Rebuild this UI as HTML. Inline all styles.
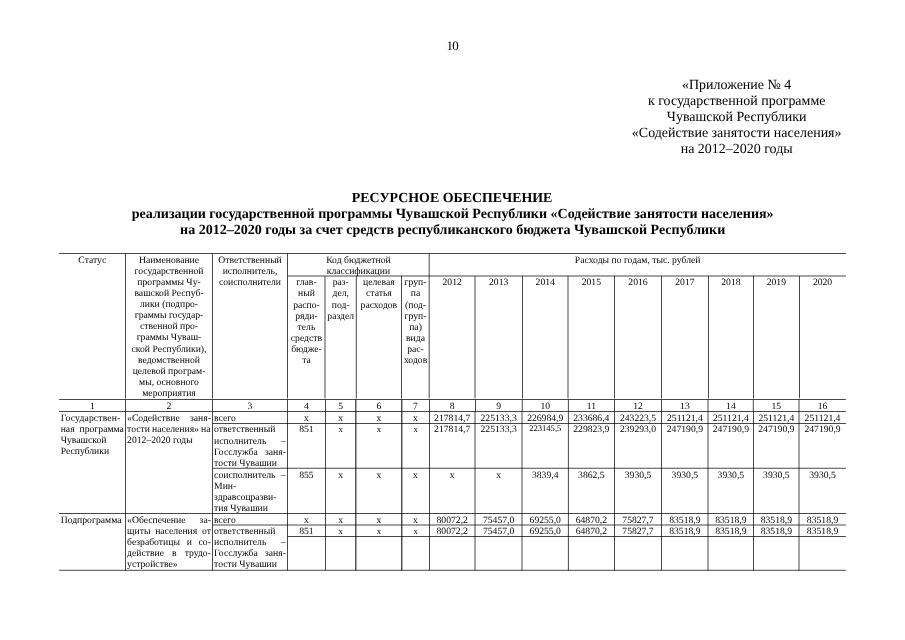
<!DOCTYPE html>
<html lang="ru">
<head>
<meta charset="utf-8">
<title>Приложение № 4 — Ресурсное обеспечение</title>
<style>
html,body{margin:0;padding:0;background:#fff;}
body{width:905px;height:640px;position:relative;overflow:hidden;font-family:"Liberation Serif","Times New Roman",serif;color:#000;text-rendering:geometricPrecision;}
.t{position:absolute;white-space:nowrap;font-size:9.675px;line-height:12px;height:12px;}
.c{text-align:center;}
.l{text-align:left;}
.j{text-align:justify;text-align-last:justify;white-space:normal;}
.h{font-size:13.97px;line-height:17px;height:17px;}
.b{font-weight:bold;font-size:14.04px;}
.pn{font-size:12.9px;line-height:14px;height:14px;}
.sm{font-size:8.6px;line-height:11px;height:11px;}
svg{position:absolute;left:0;top:0;}
svg line{stroke:#000;stroke-width:0.72;}
</style>
</head>
<body>
<svg width="905" height="640" viewBox="0 0 905 640" aria-hidden="true">
<line x1="59.10" y1="253.50" x2="845.90" y2="253.50"/>
<line x1="287.50" y1="276.00" x2="845.90" y2="276.00"/>
<line x1="59.10" y1="399.50" x2="845.90" y2="399.50"/>
<line x1="59.10" y1="411.50" x2="845.90" y2="411.50"/>
<line x1="212.50" y1="423.50" x2="845.90" y2="423.50"/>
<line x1="212.50" y1="468.25" x2="845.90" y2="468.25"/>
<line x1="59.10" y1="513.50" x2="845.90" y2="513.50"/>
<line x1="212.50" y1="525.00" x2="845.90" y2="525.00"/>
<line x1="287.50" y1="536.50" x2="845.90" y2="536.50"/>
<line x1="59.10" y1="570.30" x2="845.90" y2="570.30"/>
<line x1="125.50" y1="253.50" x2="125.50" y2="398.35"/>
<line x1="125.50" y1="399.50" x2="125.50" y2="411.50"/>
<line x1="125.50" y1="411.50" x2="125.50" y2="570.60"/>
<line x1="212.50" y1="253.50" x2="212.50" y2="398.35"/>
<line x1="212.50" y1="399.50" x2="212.50" y2="411.50"/>
<line x1="212.50" y1="411.50" x2="212.50" y2="570.60"/>
<line x1="287.50" y1="253.50" x2="287.50" y2="398.35"/>
<line x1="287.50" y1="399.50" x2="287.50" y2="411.50"/>
<line x1="287.50" y1="411.50" x2="287.50" y2="570.60"/>
<line x1="325.00" y1="276.00" x2="325.00" y2="398.35"/>
<line x1="325.50" y1="399.50" x2="325.50" y2="411.50"/>
<line x1="325.50" y1="411.50" x2="325.50" y2="570.60"/>
<line x1="356.30" y1="276.00" x2="356.30" y2="398.35"/>
<line x1="355.85" y1="399.50" x2="355.85" y2="411.50" style="stroke-width:1.0"/>
<line x1="355.85" y1="411.50" x2="355.85" y2="570.60" style="stroke-width:1.0"/>
<line x1="401.50" y1="276.00" x2="401.50" y2="398.35"/>
<line x1="401.80" y1="399.50" x2="401.80" y2="411.50" style="stroke-width:1.0"/>
<line x1="401.80" y1="411.50" x2="401.80" y2="570.60" style="stroke-width:1.0"/>
<line x1="429.20" y1="253.50" x2="429.20" y2="398.35"/>
<line x1="429.50" y1="399.50" x2="429.50" y2="411.50"/>
<line x1="429.50" y1="411.50" x2="429.50" y2="570.60"/>
<line x1="475.00" y1="276.00" x2="475.00" y2="398.35"/>
<line x1="475.50" y1="399.50" x2="475.50" y2="411.50"/>
<line x1="475.00" y1="411.50" x2="475.00" y2="570.60"/>
<line x1="522.50" y1="276.00" x2="522.50" y2="398.35"/>
<line x1="522.30" y1="399.50" x2="522.30" y2="411.50"/>
<line x1="522.00" y1="411.50" x2="522.00" y2="570.60"/>
<line x1="568.00" y1="276.00" x2="568.00" y2="398.35"/>
<line x1="568.40" y1="399.50" x2="568.40" y2="411.50"/>
<line x1="568.40" y1="411.50" x2="568.40" y2="570.60"/>
<line x1="614.50" y1="276.00" x2="614.50" y2="398.35"/>
<line x1="614.50" y1="399.50" x2="614.50" y2="411.50"/>
<line x1="614.50" y1="411.50" x2="614.50" y2="570.60"/>
<line x1="661.50" y1="276.00" x2="661.50" y2="398.35"/>
<line x1="661.50" y1="399.50" x2="661.50" y2="411.50"/>
<line x1="661.50" y1="411.50" x2="661.50" y2="570.60"/>
<line x1="708.50" y1="276.00" x2="708.50" y2="398.35"/>
<line x1="708.00" y1="399.50" x2="708.00" y2="411.50"/>
<line x1="708.00" y1="411.50" x2="708.00" y2="570.60"/>
<line x1="753.50" y1="276.00" x2="753.50" y2="398.35"/>
<line x1="753.30" y1="399.50" x2="753.30" y2="411.50"/>
<line x1="753.50" y1="411.50" x2="753.50" y2="570.60"/>
<line x1="799.50" y1="276.00" x2="799.50" y2="398.35"/>
<line x1="799.00" y1="399.50" x2="799.00" y2="411.50"/>
<line x1="799.00" y1="411.50" x2="799.00" y2="570.60"/>
</svg>
<div class="t l pn" style="left:446.55px;width:20px;top:39px;"><span style="letter-spacing:-0.65px">1</span>0</div>
<div class="t c h" style="left:586.70px;width:300.00px;top:77px;">«Приложение № 4</div>
<div class="t c h" style="left:586.70px;width:300.00px;top:93px;">к государственной программе</div>
<div class="t c h" style="left:586.70px;width:300.00px;top:109px;">Чувашской Республики</div>
<div class="t c h" style="left:586.70px;width:300.00px;top:125px;">«Содействие занятости населения»</div>
<div class="t c h" style="left:586.70px;width:300.00px;top:141px;">на 2012–2020 годы</div>
<div class="t c h b" style="left:52.10px;width:800.00px;top:190px;font-size:13.9px;">РЕСУРСНОЕ ОБЕСПЕЧЕНИЕ</div>
<div class="t c h b" style="left:52.70px;width:800.00px;top:206px;">реализации государственной программы Чувашской Республики «Содействие занятости населения»</div>
<div class="t c h b" style="left:52.70px;width:800.00px;top:222px;">на 2012–2020 годы за счет средств республиканского бюджета Чувашской Республики</div>
<div class="t c" style="left:59.10px;width:66.40px;top:255px;">Статус</div>
<div class="t c" style="left:125.50px;width:87.00px;top:255px;">Наименование</div>
<div class="t c" style="left:125.50px;width:87.00px;top:266px;">государственной</div>
<div class="t c" style="left:125.50px;width:87.00px;top:277px;">программы Чу-</div>
<div class="t c" style="left:125.50px;width:87.00px;top:288px;">вашской Респуб-</div>
<div class="t c" style="left:125.50px;width:87.00px;top:299px;">лики (подпро-</div>
<div class="t c" style="left:125.50px;width:87.00px;top:310px;">граммы государ-</div>
<div class="t c" style="left:125.50px;width:87.00px;top:321px;">ственной про-</div>
<div class="t c" style="left:125.50px;width:87.00px;top:332px;">граммы Чуваш-</div>
<div class="t c" style="left:125.50px;width:87.00px;top:344px;">ской Республики),</div>
<div class="t c" style="left:125.50px;width:87.00px;top:355px;">ведомственной</div>
<div class="t c" style="left:125.50px;width:87.00px;top:366px;">целевой програм-</div>
<div class="t c" style="left:125.50px;width:87.00px;top:377px;">мы, основного</div>
<div class="t c" style="left:125.50px;width:87.00px;top:388px;">мероприятия</div>
<div class="t c" style="left:212.50px;width:75.00px;top:255px;">Ответственный</div>
<div class="t c" style="left:212.50px;width:75.00px;top:266px;">исполнитель,</div>
<div class="t c" style="left:212.50px;width:75.00px;top:277px;">соисполнители</div>
<div class="t c" style="left:287.50px;width:141.90px;top:255px;">Код бюджетной</div>
<div class="t c" style="left:287.50px;width:141.90px;top:266px;">классификации</div>
<div class="t c" style="left:429.40px;width:416.50px;top:255px;">Расходы по годам, тыс. рублей</div>
<div class="t c" style="left:287.50px;width:37.90px;top:277px;">глав-</div>
<div class="t c" style="left:287.50px;width:37.90px;top:288px;">ный</div>
<div class="t c" style="left:287.50px;width:37.90px;top:300px;">распо-</div>
<div class="t c" style="left:287.50px;width:37.90px;top:311px;">ряди-</div>
<div class="t c" style="left:287.50px;width:37.90px;top:322px;">тель</div>
<div class="t c" style="left:287.50px;width:37.90px;top:333px;">средств</div>
<div class="t c" style="left:287.50px;width:37.90px;top:344px;">бюдже-</div>
<div class="t c" style="left:287.50px;width:37.90px;top:355px;">та</div>
<div class="t c" style="left:325.40px;width:30.70px;top:277px;">раз-</div>
<div class="t c" style="left:325.40px;width:30.70px;top:288px;">дел,</div>
<div class="t c" style="left:325.40px;width:30.70px;top:300px;">под-</div>
<div class="t c" style="left:325.40px;width:30.70px;top:311px;">раздел</div>
<div class="t c" style="left:356.10px;width:45.60px;top:277px;">целевая</div>
<div class="t c" style="left:356.10px;width:45.60px;top:288px;">статья</div>
<div class="t c" style="left:356.10px;width:45.60px;top:300px;">расходов</div>
<div class="t c" style="left:401.70px;width:27.70px;top:277px;">груп-</div>
<div class="t c" style="left:401.70px;width:27.70px;top:288px;">па</div>
<div class="t c" style="left:401.70px;width:27.70px;top:300px;">(под-</div>
<div class="t c" style="left:401.70px;width:27.70px;top:311px;">груп-</div>
<div class="t c" style="left:401.70px;width:27.70px;top:322px;">па)</div>
<div class="t c" style="left:401.70px;width:27.70px;top:333px;">вида</div>
<div class="t c" style="left:401.70px;width:27.70px;top:344px;">рас-</div>
<div class="t c" style="left:401.70px;width:27.70px;top:355px;">ходов</div>
<div class="t c" style="left:429.40px;width:45.60px;top:277px;">2012</div>
<div class="t c" style="left:475.00px;width:47.30px;top:277px;">2013</div>
<div class="t c" style="left:522.30px;width:45.90px;top:277px;">2014</div>
<div class="t c" style="left:568.20px;width:46.30px;top:277px;">2015</div>
<div class="t c" style="left:614.50px;width:47.00px;top:277px;">2016</div>
<div class="t c" style="left:661.50px;width:46.80px;top:277px;">2017</div>
<div class="t c" style="left:708.30px;width:45.20px;top:277px;">2018</div>
<div class="t c" style="left:753.50px;width:45.70px;top:277px;">2019</div>
<div class="t c" style="left:799.20px;width:46.70px;top:277px;">2020</div>
<div class="t c" style="left:59.10px;width:66.40px;top:401px;">1</div>
<div class="t c" style="left:125.50px;width:87.00px;top:401px;">2</div>
<div class="t c" style="left:212.50px;width:75.00px;top:401px;">3</div>
<div class="t c" style="left:287.50px;width:37.90px;top:401px;">4</div>
<div class="t c" style="left:325.40px;width:30.70px;top:401px;">5</div>
<div class="t c" style="left:356.10px;width:45.60px;top:401px;">6</div>
<div class="t c" style="left:401.70px;width:27.70px;top:401px;">7</div>
<div class="t c" style="left:429.40px;width:45.60px;top:401px;">8</div>
<div class="t c" style="left:475.00px;width:47.30px;top:401px;">9</div>
<div class="t c" style="left:522.30px;width:45.90px;top:401px;">10</div>
<div class="t c" style="left:568.20px;width:46.30px;top:401px;">11</div>
<div class="t c" style="left:614.50px;width:47.00px;top:401px;">12</div>
<div class="t c" style="left:661.50px;width:46.80px;top:401px;">13</div>
<div class="t c" style="left:708.30px;width:45.20px;top:401px;">14</div>
<div class="t c" style="left:753.50px;width:45.70px;top:401px;">15</div>
<div class="t c" style="left:799.20px;width:46.70px;top:401px;">16</div>
<div class="t l" style="left:60.70px;width:63.20px;top:413px;letter-spacing:0.14px;">Государствен-</div>
<div class="t j" style="left:60.70px;width:63.20px;top:424px;">ная программа</div>
<div class="t l" style="left:60.70px;width:63.20px;top:435px;">Чувашской</div>
<div class="t l" style="left:60.70px;width:63.20px;top:446px;">Республики</div>
<div class="t j" style="left:127.10px;width:83.80px;top:413px;">«Содействие заня-</div>
<div class="t l" style="left:127.10px;width:83.80px;top:424px;word-spacing:-0.3px;">тости населения» на</div>
<div class="t l" style="left:127.10px;width:83.80px;top:435px;">2012–2020 годы</div>
<div class="t l" style="left:214.10px;width:71.80px;top:413px;">всего</div>
<div class="t l" style="left:214.10px;width:71.80px;top:424px;">ответственный</div>
<div class="t j" style="left:214.10px;width:71.80px;top:436px;">исполнитель –</div>
<div class="t j" style="left:214.10px;width:71.80px;top:447px;">Госслужба заня-</div>
<div class="t l" style="left:214.10px;width:71.80px;top:458px;">тости Чувашии</div>
<div class="t j" style="left:214.10px;width:71.80px;top:470px;">соисполнитель –</div>
<div class="t l" style="left:214.10px;width:71.80px;top:481px;">Мин-</div>
<div class="t l" style="left:214.10px;width:71.80px;top:492px;">здравсоцразви-</div>
<div class="t l" style="left:214.10px;width:71.80px;top:503px;">тия Чувашии</div>
<div class="t l" style="left:60.70px;width:63.20px;top:515px;">Подпрограмма</div>
<div class="t j" style="left:127.10px;width:83.80px;top:515px;">«Обеспечение за-</div>
<div class="t j" style="left:127.10px;width:83.80px;top:526px;">щиты населения от</div>
<div class="t j" style="left:127.10px;width:83.80px;top:537px;">безработицы и со-</div>
<div class="t j" style="left:127.10px;width:83.80px;top:548px;">действие в трудо-</div>
<div class="t l" style="left:127.10px;width:83.80px;top:559px;">устройстве»</div>
<div class="t l" style="left:214.10px;width:71.80px;top:515px;">всего</div>
<div class="t l" style="left:214.10px;width:71.80px;top:526px;">ответственный</div>
<div class="t j" style="left:214.10px;width:71.80px;top:537px;">исполнитель –</div>
<div class="t j" style="left:214.10px;width:71.80px;top:548px;">Госслужба заня-</div>
<div class="t l" style="left:214.10px;width:71.80px;top:559px;">тости Чувашии</div>
<div class="t c" style="left:287.50px;width:37.90px;top:413px;">х</div>
<div class="t c" style="left:325.40px;width:30.70px;top:413px;">х</div>
<div class="t c" style="left:356.10px;width:45.60px;top:413px;">х</div>
<div class="t c" style="left:401.70px;width:27.70px;top:413px;">х</div>
<div class="t c" style="left:429.40px;width:45.60px;top:413px;">217814,7</div>
<div class="t c" style="left:475.00px;width:47.30px;top:413px;">225133,3</div>
<div class="t c" style="left:522.30px;width:45.90px;top:413px;">226984,9</div>
<div class="t c" style="left:568.20px;width:46.30px;top:413px;">233686,4</div>
<div class="t c" style="left:614.50px;width:47.00px;top:413px;">243223,5</div>
<div class="t c" style="left:661.50px;width:46.80px;top:413px;">251121,4</div>
<div class="t c" style="left:708.30px;width:45.20px;top:413px;">251121,4</div>
<div class="t c" style="left:753.50px;width:45.70px;top:413px;">251121,4</div>
<div class="t c" style="left:799.20px;width:46.70px;top:413px;">251121,4</div>
<div class="t c" style="left:287.50px;width:37.90px;top:424px;">851</div>
<div class="t c sm" style="left:325.40px;width:30.70px;top:424px;">х</div>
<div class="t c sm" style="left:356.10px;width:45.60px;top:424px;">х</div>
<div class="t c sm" style="left:401.70px;width:27.70px;top:424px;">х</div>
<div class="t c" style="left:429.40px;width:45.60px;top:424px;">217814,7</div>
<div class="t c" style="left:475.00px;width:47.30px;top:424px;">225133,3</div>
<div class="t c sm" style="left:522.30px;width:45.90px;top:423px;">223145,5</div>
<div class="t c" style="left:568.20px;width:46.30px;top:424px;">229823,9</div>
<div class="t c" style="left:614.50px;width:47.00px;top:424px;">239293,0</div>
<div class="t c" style="left:661.50px;width:46.80px;top:424px;">247190,9</div>
<div class="t c" style="left:708.30px;width:45.20px;top:424px;">247190,9</div>
<div class="t c" style="left:753.50px;width:45.70px;top:424px;">247190,9</div>
<div class="t c" style="left:799.20px;width:46.70px;top:424px;">247190,9</div>
<div class="t c" style="left:287.50px;width:37.90px;top:470px;">855</div>
<div class="t c" style="left:325.40px;width:30.70px;top:470px;">х</div>
<div class="t c" style="left:356.10px;width:45.60px;top:470px;">х</div>
<div class="t c" style="left:401.70px;width:27.70px;top:470px;">х</div>
<div class="t c" style="left:429.40px;width:45.60px;top:470px;">х</div>
<div class="t c" style="left:475.00px;width:47.30px;top:470px;">х</div>
<div class="t c" style="left:522.30px;width:45.90px;top:470px;">3839,4</div>
<div class="t c" style="left:568.20px;width:46.30px;top:470px;">3862,5</div>
<div class="t c" style="left:614.50px;width:47.00px;top:470px;">3930,5</div>
<div class="t c" style="left:661.50px;width:46.80px;top:470px;">3930,5</div>
<div class="t c" style="left:708.30px;width:45.20px;top:470px;">3930,5</div>
<div class="t c" style="left:753.50px;width:45.70px;top:470px;">3930,5</div>
<div class="t c" style="left:799.20px;width:46.70px;top:470px;">3930,5</div>
<div class="t c" style="left:287.50px;width:37.90px;top:515px;">х</div>
<div class="t c" style="left:325.40px;width:30.70px;top:515px;">х</div>
<div class="t c" style="left:356.10px;width:45.60px;top:515px;">х</div>
<div class="t c" style="left:401.70px;width:27.70px;top:515px;">х</div>
<div class="t c" style="left:429.40px;width:45.60px;top:515px;">80072,2</div>
<div class="t c" style="left:475.00px;width:47.30px;top:515px;">75457,0</div>
<div class="t c" style="left:522.30px;width:45.90px;top:515px;">69255,0</div>
<div class="t c" style="left:568.20px;width:46.30px;top:515px;">64870,2</div>
<div class="t c" style="left:614.50px;width:47.00px;top:515px;">75827,7</div>
<div class="t c" style="left:661.50px;width:46.80px;top:515px;">83518,9</div>
<div class="t c" style="left:708.30px;width:45.20px;top:515px;">83518,9</div>
<div class="t c" style="left:753.50px;width:45.70px;top:515px;">83518,9</div>
<div class="t c" style="left:799.20px;width:46.70px;top:515px;">83518,9</div>
<div class="t c" style="left:287.50px;width:37.90px;top:526px;">851</div>
<div class="t c sm" style="left:325.40px;width:30.70px;top:526px;">х</div>
<div class="t c sm" style="left:356.10px;width:45.60px;top:526px;">х</div>
<div class="t c sm" style="left:401.70px;width:27.70px;top:526px;">х</div>
<div class="t c" style="left:429.40px;width:45.60px;top:526px;">80072,2</div>
<div class="t c" style="left:475.00px;width:47.30px;top:526px;">75457,0</div>
<div class="t c" style="left:522.30px;width:45.90px;top:526px;">69255,0</div>
<div class="t c" style="left:568.20px;width:46.30px;top:526px;">64870,2</div>
<div class="t c" style="left:614.50px;width:47.00px;top:526px;">75827,7</div>
<div class="t c" style="left:661.50px;width:46.80px;top:526px;">83518,9</div>
<div class="t c" style="left:708.30px;width:45.20px;top:526px;">83518,9</div>
<div class="t c" style="left:753.50px;width:45.70px;top:526px;">83518,9</div>
<div class="t c" style="left:799.20px;width:46.70px;top:526px;">83518,9</div>
</body>
</html>
